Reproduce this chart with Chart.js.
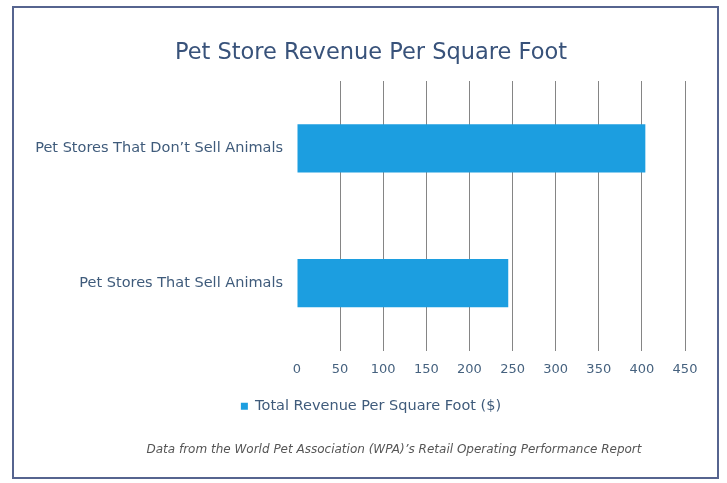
<!DOCTYPE html>
<html>
<head>
<meta charset="utf-8">
<script src="https://cdn.jsdelivr.net/npm/chart.js@4"></script>
<style>
    html, body { margin: 0; padding: 0; background: #ffffff; }
    #wrap { position: relative; width: 727px; height: 483px; }
    #frame {
        position: absolute; left: 12px; top: 6px; width: 703px; height: 469px;
        border: 2px solid #56648f; pointer-events: none;
    }
</style>
</head>
<body>
<div id="wrap">
    <canvas id="revenueChart" width="727" height="483"></canvas>
    <div id="frame"></div>
</div>
<script>
const CATEGORIES = ["Pet Stores That Don\u2019t Sell Animals", "Pet Stores That Sell Animals"];
const REVENUE = [404, 245];
const SERIES_LABEL = "Total Revenue Per Square Foot ($)";
const X_MIN = 0;
const X_MAX = 450;
const X_STEP = 50;
const TITLE = "Pet Store Revenue Per Square Foot";
const SOURCE_NOTE = "Data from the World Pet Association (WPA)\u2019s Retail Operating Performance Report";

const FONT = "'DejaVu Sans', Verdana, sans-serif";
const BAR_BLUE = "#1c9ee0";

// the original centres title/legend/footer on the frame, not on the plot,
// so nudge those boxes to the right after layout
const shiftBoxes = {
    id: "shiftBoxes",
    afterLayout(chart) {
        chart.titleBlock.left = 57;
        chart.legend.left = 57;
        const note = chart.boxes.find((b) => b.options && b.options.text === SOURCE_NOTE);
        if (note) note.left = 103;
    },
};

const ctx = document.getElementById("revenueChart").getContext("2d");

const chart = new Chart(ctx, {
    type: "bar",
    data: {
        labels: CATEGORIES,
        datasets: [
            {
                label: SERIES_LABEL,
                data: REVENUE,
                backgroundColor: BAR_BLUE,
                borderWidth: 0,
                barPercentage: 0.357,
                categoryPercentage: 1,
            },
        ],
    },
    options: {
        indexAxis: "y",
        responsive: false,
        animation: false,
        layout: {
            padding: { left: 20, right: 42, top: 0, bottom: 0 },
        },
        scales: {
            x: {
                min: X_MIN,
                max: X_MAX,
                border: { display: false },
                grid: {
                    color: (c) => (c.index === 0 ? "rgba(0,0,0,0)" : "#858585"),
                    lineWidth: 1,
                    drawTicks: false,
                },
                ticks: {
                    stepSize: X_STEP,
                    padding: 11,
                    color: "#46627f",
                    font: { family: FONT, size: 13 },
                },
            },
            y: {
                border: { display: false },
                grid: { display: false, drawTicks: false },
                ticks: {
                    padding: 14,
                    color: "#3f5b7b",
                    font: { family: FONT, size: 14.5 },
                },
                afterFit: function (scale) {
                    scale.width = 277;
                },
            },
        },
        plugins: {
            tooltip: { enabled: false },
            title: {
                display: true,
                text: TITLE,
                color: "#38527a",
                font: { family: FONT, size: 22.5, weight: "normal" },
                padding: { top: 40, bottom: 14 },
            },
            legend: {
                display: true,
                position: "bottom",
                labels: {
                    boxWidth: 7,
                    boxHeight: 7,
                    padding: 11,
                    color: "#3f5b7b",
                    font: { family: FONT, size: 14.5 },
                },
            },
            subtitle: {
                display: true,
                position: "bottom",
                text: SOURCE_NOTE,
                color: "#555555",
                font: { family: FONT, size: 12, style: "italic" },
                padding: { top: 19, bottom: 26 },
            },
        },
    },
    plugins: [shiftBoxes],
});
</script>
</body>
</html>
